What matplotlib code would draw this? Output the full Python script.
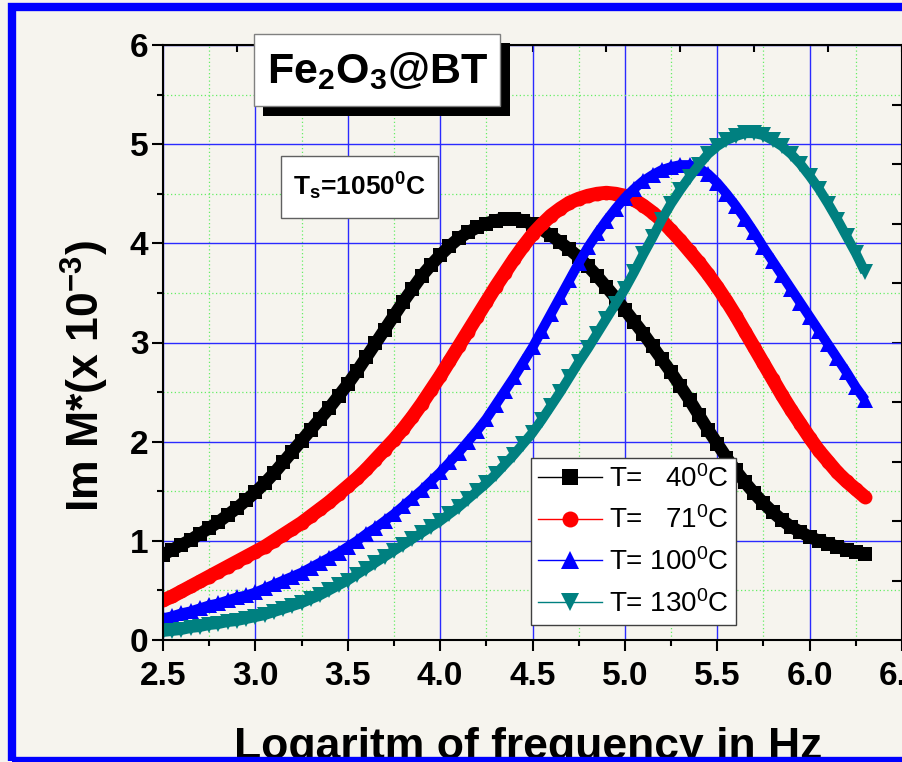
import matplotlib
matplotlib.use("Agg")
import matplotlib.pyplot as plt
from matplotlib.patches import Rectangle
from matplotlib.lines import Line2D
from matplotlib.ticker import MultipleLocator, NullFormatter

plt.rcParams['font.family'] = ['Liberation Sans', 'DejaVu Sans']
plt.rcParams['font.weight'] = 'bold'
plt.rcParams['mathtext.default'] = 'regular'

# log10 of frequency (Hz)
log_f = [2.50, 2.55, 2.60, 2.65, 2.70, 2.75, 2.80, 2.85, 2.90, 2.95,
         3.00, 3.05, 3.10, 3.15, 3.20, 3.25, 3.30, 3.35, 3.40, 3.45,
         3.50, 3.55, 3.60, 3.65, 3.70, 3.75, 3.80, 3.85, 3.90, 3.95,
         4.00, 4.05, 4.10, 4.15, 4.20, 4.25, 4.30, 4.35, 4.40, 4.45,
         4.50, 4.55, 4.60, 4.65, 4.70, 4.75, 4.80, 4.85, 4.90, 4.95,
         5.00, 5.05, 5.10, 5.15, 5.20, 5.25, 5.30, 5.35, 5.40, 5.45,
         5.50, 5.55, 5.60, 5.65, 5.70, 5.75, 5.80, 5.85, 5.90, 5.95,
         6.00, 6.05, 6.10, 6.15, 6.20, 6.25, 6.30]

# Im M* (x 1e-3)
m_40 = [0.86, 0.91, 0.96, 1.01, 1.07, 1.13, 1.19, 1.26, 1.33, 1.41,
        1.49, 1.58, 1.68, 1.79, 1.90, 2.01, 2.12, 2.23, 2.34, 2.46,
        2.58, 2.71, 2.85, 2.99, 3.13, 3.27, 3.41, 3.54, 3.67, 3.78,
        3.88, 3.97, 4.05, 4.11, 4.16, 4.20, 4.23, 4.25, 4.25, 4.23,
        4.19, 4.14, 4.08, 4.01, 3.94, 3.86, 3.77, 3.67, 3.56, 3.45,
        3.33, 3.21, 3.09, 2.96, 2.83, 2.70, 2.56, 2.42, 2.27, 2.12,
        1.98, 1.84, 1.71, 1.59, 1.48, 1.38, 1.29, 1.21, 1.14, 1.09,
        1.04, 1.00, 0.97, 0.94, 0.91, 0.89, 0.87]

m_71 = [0.40, 0.44, 0.49, 0.54, 0.59, 0.64, 0.69, 0.74, 0.79, 0.84,
        0.89, 0.94, 1.00, 1.06, 1.12, 1.18, 1.25, 1.32, 1.39, 1.47,
        1.55, 1.63, 1.72, 1.82, 1.92, 2.02, 2.13, 2.25, 2.38, 2.52,
        2.66, 2.81, 2.96, 3.11, 3.26, 3.41, 3.56, 3.70, 3.84, 3.97,
        4.09, 4.19, 4.28, 4.35, 4.41, 4.45, 4.48, 4.50, 4.51, 4.50,
        4.48, 4.44, 4.38, 4.31, 4.23, 4.13, 4.03, 3.92, 3.81, 3.69,
        3.56, 3.42, 3.27, 3.11, 2.95, 2.79, 2.63, 2.47, 2.32, 2.18,
        2.04, 1.91, 1.80, 1.69, 1.60, 1.52, 1.44]

m_100 = [0.22, 0.24, 0.27, 0.29, 0.32, 0.35, 0.37, 0.40, 0.43, 0.45,
         0.48, 0.52, 0.56, 0.60, 0.64, 0.68, 0.73, 0.78, 0.83, 0.88,
         0.94, 1.00, 1.07, 1.13, 1.20, 1.27, 1.35, 1.43, 1.51, 1.60,
         1.69, 1.79, 1.89, 2.00, 2.11, 2.23, 2.37, 2.51, 2.65, 2.80,
         2.95, 3.12, 3.29, 3.46, 3.63, 3.80, 3.96, 4.10, 4.23, 4.35,
         4.46, 4.55, 4.63, 4.69, 4.74, 4.77, 4.79, 4.79, 4.76, 4.70,
         4.61, 4.50, 4.38, 4.25, 4.11, 3.96, 3.82, 3.68, 3.54, 3.40,
         3.26, 3.12, 2.98, 2.84, 2.70, 2.55, 2.42]

m_130 = [0.08, 0.09, 0.10, 0.12, 0.13, 0.15, 0.16, 0.18, 0.19, 0.21,
         0.23, 0.25, 0.28, 0.31, 0.34, 0.37, 0.41, 0.45, 0.50, 0.55,
         0.60, 0.66, 0.72, 0.78, 0.84, 0.90, 0.96, 1.02, 1.08, 1.14,
         1.20, 1.27, 1.34, 1.42, 1.50, 1.58, 1.67, 1.77, 1.87, 1.98,
         2.09, 2.22, 2.36, 2.50, 2.65, 2.80, 2.94, 3.09, 3.24, 3.39,
         3.54, 3.71, 3.89, 4.06, 4.24, 4.40, 4.54, 4.67, 4.79, 4.90,
         4.98, 5.04, 5.08, 5.11, 5.11, 5.09, 5.04, 4.98, 4.90, 4.80,
         4.68, 4.55, 4.40, 4.24, 4.07, 3.90, 3.71]

labels = ["T=   40$^{0}$C", "T=   71$^{0}$C", "T= 100$^{0}$C", "T= 130$^{0}$C"]
colors = ["black", "#ff0000", "#0000ff", "#008080"]
markers = ["s", "o", "^", "v"]
msizes = [9.5, 10, 11, 11]
band_widths = [9, 10, 7, 7]

W, H = 903, 762
bg = "#f6f4ee"

fig = plt.figure(figsize=(W / 100, H / 100), dpi=100, facecolor=bg)
ax = fig.add_axes([163 / W, 1 - 640 / H, 739 / W, 595 / H], facecolor=bg)

series = [m_40, m_71, m_100, m_130]
handles = []
for ys, c, mk, ms, bw in zip(series, colors, markers, msizes, band_widths):
    # Origin draws the symbols so close that they merge into a band
    ax.plot(log_f, ys, color=c, lw=bw, marker=mk, ms=ms, mec=c, mfc=c, mew=0,
            solid_capstyle='butt', solid_joinstyle='round')
    handles.append(Line2D([], [], color=c, lw=1, marker=mk, ms=ms + 1.5, mew=0))

ax.set_xlim(2.5, 6.5)
ax.set_ylim(0, 6)
ax.set_xticks([2.5, 3.0, 3.5, 4.0, 4.5, 5.0, 5.5, 6.0, 6.5])
ax.set_xticklabels(["2.5", "3.0", "3.5", "4.0", "4.5", "5.0", "5.5", "6.0", "6.5"])
ax.set_yticks([0, 1, 2, 3, 4, 5, 6])
ax.xaxis.set_minor_locator(MultipleLocator(0.25))
ax.yaxis.set_minor_locator(MultipleLocator(0.5))
ax.tick_params(which='major', direction='out', length=8, width=1.5, labelsize=24)
ax.tick_params(axis='x', which='major', pad=7)
ax.tick_params(axis='y', which='major', pad=2.5)
ax.tick_params(which='minor', direction='out', length=4.5, width=1.5)
ax.tick_params(top=False, right=False, which='both')

ax.set_axisbelow(True)
ax.grid(which='major', color='#2a2aff', lw=1.0)
ax.grid(which='minor', color='#66ee66', lw=0.9, ls=(0, (1, 2)))
for sp in ax.spines.values():
    sp.set_linewidth(1.5)

# odd ticks on the top and right frame, as in the original
secx = ax.secondary_xaxis('top')
secx.set_xticks([2.9, 3.3, 3.7, 4.1, 4.5, 4.9, 5.3, 5.7, 6.1, 6.5])
secx.xaxis.set_major_formatter(NullFormatter())
secx.tick_params(direction='in', length=5, width=1.5)
secy = ax.secondary_yaxis('right')
secy.set_yticks([0.6, 1.2, 1.8, 2.4, 3.0, 3.6, 4.2, 4.8, 5.4])
secy.yaxis.set_major_formatter(NullFormatter())
secy.tick_params(direction='in', length=7, width=1.5)

leg = ax.legend(handles, labels, loc='upper left', bbox_to_anchor=(0.498, 0.306),
                borderaxespad=0, fancybox=False, edgecolor='#404040', facecolor='white',
                framealpha=1, prop={'size': 20, 'weight': 'normal'},
                handlelength=2.3, handletextpad=0.25, labelspacing=0.5, borderpad=0.25)
leg.get_frame().set_linewidth(1.0)
leg.set_zorder(10)

fig.text(100 / W, 1 - 376 / H, "Im M*(x 10$^{-3}$)", rotation=90, rotation_mode='anchor',
         ha='center', va='baseline', fontsize=32, fontweight='bold')
fig.text(528 / W, 1 - 759 / H, "Logaritm of frequency in Hz", ha='center', va='baseline',
         fontsize=32, fontweight='bold')

# title box with shadow
fig.patches.append(Rectangle((263 / W, 1 - 116 / H), 247 / W, 73 / H, transform=fig.transFigure,
                             facecolor='black', edgecolor='none', zorder=3))
fig.patches.append(Rectangle((254 / W, 1 - 106 / H), 246 / W, 72 / H, transform=fig.transFigure,
                             facecolor='white', edgecolor='#808080', lw=1, zorder=4))
fig.text(378 / W, 1 - 83 / H, "Fe$_{2}$O$_{3}$@BT", ha='center', va='baseline',
         fontsize=31, fontweight='bold', zorder=5)

fig.patches.append(Rectangle((281 / W, 1 - 218 / H), 157 / W, 62 / H, transform=fig.transFigure,
                             facecolor='white', edgecolor='#606060', lw=1, zorder=4))
fig.text(359 / W, 1 - 195 / H, "T$_{s}$=1050$^{0}$C", ha='center', va='baseline',
         fontsize=19, fontweight='bold', zorder=5)

# blue frame round the picture
fig.patches.append(Rectangle((12 / W, 1 / H), 1.1, 1 - 8 / H, transform=fig.transFigure,
                             facecolor='none', edgecolor='#0000ff', lw=6, zorder=6))

fig.savefig("out.png", dpi=100, facecolor=bg)
